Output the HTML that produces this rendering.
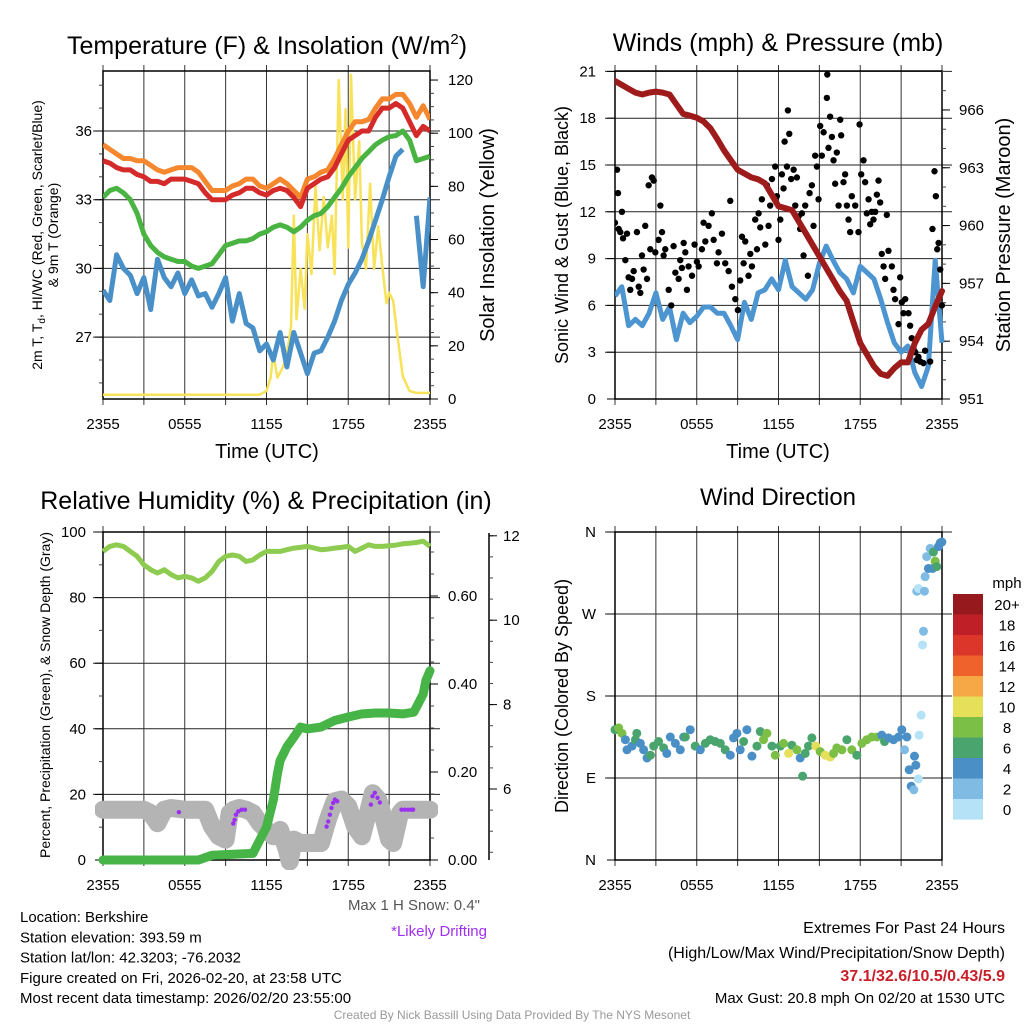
<!DOCTYPE html>
<html><head><meta charset="utf-8"><style>
html,body{margin:0;padding:0;background:#fff;}
svg{display:block;font-family:"Liberation Sans",sans-serif;}
</style></head><body>
<svg id="c" width="1024" height="1024" viewBox="0 0 1024 1024" xmlns="http://www.w3.org/2000/svg"></svg>
<script>
// ---------- DATA ----------
const timeLabels = ["2355","0555","1155","1755","2355"];
const hrs = [0,0.5,1,1.5,2,2.5,3,3.5,4,4.5,5,5.5,6,6.5,7,7.5,8,8.5,9,9.5,10,10.5,11,11.5,12,12.5,13,13.5,14,14.5,15,15.5,16,16.5,17,17.5,18,18.5,19,19.5,20,20.5,21,21.5,22,22.5,23,23.5,24];
const tempOrange = [35.4,35.2,35.0,34.8,34.8,34.7,34.7,34.5,34.3,34.2,34.3,34.4,34.4,34.4,34.2,33.8,33.4,33.4,33.4,33.6,33.7,33.9,33.9,33.6,33.5,33.7,33.9,33.7,33.4,33.1,33.9,34.0,34.2,34.3,34.8,35.4,36.0,36.4,36.4,36.5,37.0,37.4,37.4,37.6,37.6,37.2,36.6,37.1,36.5];
const tempRed = [34.7,34.6,34.4,34.3,34.3,34.1,34.0,33.8,33.8,33.7,33.9,33.9,33.9,33.8,33.7,33.3,33.0,33.0,33.0,33.2,33.3,33.5,33.5,33.3,33.2,33.4,33.5,33.4,33.1,32.7,33.5,33.7,33.9,34.0,34.4,35.0,35.6,35.8,36.0,36.0,36.6,37.0,37.0,37.2,37.0,36.4,35.8,36.2,36.0];
const tempGreen = [33.1,33.4,33.5,33.3,33.0,32.4,31.5,31.0,30.7,30.5,30.4,30.3,30.3,30.1,30.0,30.1,30.2,30.6,31.0,31.1,31.2,31.2,31.3,31.5,31.6,31.8,31.9,31.8,31.6,31.8,32.1,32.3,32.4,32.7,33.1,33.5,34.0,34.4,34.8,35.1,35.4,35.6,35.75,35.8,36.0,35.6,34.7,34.8,34.9];
const tempBlue = [29.05,28.6,30.6,30.0,29.7,28.9,29.6,28.2,30.4,29.6,29.2,29.8,28.9,29.5,28.8,28.9,28.3,28.9,29.6,27.7,28.9,27.6,27.4,26.4,26.7,26.0,27.2,25.7,27.2,26.3,25.4,26.3,26.4,27.0,27.7,28.6,29.3,29.8,30.4,31.2,32.1,33.0,34.0,34.9,35.2,null,32.3,29.2,33.1];
const solarHrs = [0,6,11.5,12,12.3,12.5,12.8,13.2,13.5,13.8,14,14.2,14.5,14.8,15,15.3,15.6,15.9,16.2,16.5,16.8,17,17.3,17.6,17.8,18,18.2,18.5,18.8,19,19.3,19.6,19.9,20.2,20.5,20.8,21,21.3,21.6,22,22.5,23,24];
const solarVals = [1.6,1.6,1.6,3,8,17,8,12,17,27,69,30,49,34,62,47,80,56,76,57,69,47,120,75,109,57,122,75,97,59,49,81,49,65,50,36,40,37,24,8.5,3,2.3,2.3];
const pressure = [967.5,967.3,967.1,966.9,966.8,966.9,966.95,966.9,966.8,966.3,965.8,965.7,965.6,965.4,965.05,964.5,963.9,963.4,962.9,962.7,962.5,962.4,962.2,961.6,961.0,960.9,960.8,960.2,959.6,959.0,958.4,957.8,957.2,956.6,956.1,955.0,953.9,953.3,952.7,952.3,952.2,952.6,952.9,952.9,953.9,954.6,954.9,955.8,956.6];
const windSpd = [6.6,7.2,4.7,5.1,4.7,5.5,6.8,5.1,5.9,3.8,5.5,4.9,5.3,5.9,5.9,5.5,5.5,4.7,3.8,6.2,5.1,6.8,7.0,7.7,7.0,8.9,7.2,6.8,6.4,7.0,8.7,9.8,8.9,8.1,7.7,6.8,8.5,8.1,7.7,6.4,4.9,3.6,3.0,3.4,1.7,0.8,2.1,8.9,3.6];
const gustHrs = [0,0.15,0.22,0.27,0.39,0.51,0.59,0.76,0.88,1.0,1.12,1.25,1.37,1.61,1.74,1.86,1.98,2.1,2.22,2.35,2.47,2.59,2.71,2.84,2.96,3.2,3.33,3.45,3.57,3.69,3.94,4.13,4.3,4.43,4.67,4.79,4.91,5.04,5.16,5.28,5.4,5.65,5.84,6.01,6.14,6.38,6.5,6.63,6.87,7.11,7.24,7.48,7.6,7.85,8.09,8.34,8.46,8.58,8.83,9.02,9.19,9.32,9.44,9.56,9.8,9.93,10.05,10.29,10.42,10.54,10.66,10.78,11.03,11.15,11.27,11.39,11.52,11.76,11.88,12.0,12.13,12.25,12.37,12.45,12.62,12.69,12.79,12.93,13.11,13.23,13.35,13.47,13.59,13.72,13.84,13.96,14.16,14.28,14.45,14.57,14.69,14.82,14.94,15.06,15.18,15.31,15.58,15.55,15.67,15.79,15.92,16.04,16.16,16.28,16.41,16.53,16.6,16.77,16.89,17.02,17.14,17.26,17.38,17.63,17.87,17.95,18.07,18.24,18.36,18.48,18.61,18.73,18.85,18.97,19.1,19.22,19.34,19.46,19.58,19.71,19.83,19.95,20.07,20.32,20.44,20.56,20.81,20.93,21.05,21.17,21.3,21.54,21.66,21.78,21.91,22.03,22.15,22.27,22.4,22.64,22.76,23.13,23.3,23.45,23.55,23.65,23.75,23.87,23.99];
const gustVals = [11.3,14.7,13.2,10.9,10.7,12.0,10.3,8.9,10.6,7.8,7.0,7.7,8.2,10.7,7.2,6.8,9.2,8.3,11.1,7.7,13.7,9.6,14.2,14.0,9.4,10.2,12.4,10.7,9.2,9.6,7.0,6.0,9.8,8.1,7.7,8.9,8.4,10.0,9.4,7.0,8.5,7.9,9.9,8.8,8.5,9.6,11.3,10.1,11.1,11.9,10.2,8.7,9.4,10.6,8.7,8.2,12.7,7.2,6.4,5.7,7.6,10.4,8.7,10.1,7.9,9.3,8.5,11.5,9.6,11.9,11.0,12.8,9.9,13.7,11.1,12.4,14.1,14.9,13.0,10.2,11.5,14.4,13.5,16.5,14.9,18.5,17.0,14.1,14.7,12.4,14.2,11.7,10.9,11.9,9.2,12.4,7.9,13.2,13.7,11.1,15.6,14.9,12.8,17.5,15.6,17.1,20.8,19.3,16.1,18.1,16.8,15.3,13.8,15.8,12.4,17.9,16.9,13.9,14.4,12.4,11.5,10.7,13.0,12.4,10.7,17.6,14.4,15.3,13.9,11.9,12.8,11.2,12.0,11.5,12.0,13.1,14.0,12.6,9.3,8.5,7.7,11.8,9.5,8.5,7.0,6.4,4.8,7.8,6.2,5.5,6.4,5.5,4.7,3.9,3.2,3.0,2.5,2.7,2.4,2.3,3.1,2.4,10.9,14.6,13.0,9.6,10.0,8.3,6.0];
const rhVals = [94.1,95.6,96.1,95.6,94.1,92.6,90.0,88.5,87.5,88.5,87.0,86.0,86.5,86.0,85.0,86.0,88.0,91.0,92.6,93.0,92.6,91.0,91.5,93.0,94.1,94.1,94.1,94.6,95.1,95.3,95.6,95.1,94.6,94.8,95.1,95.3,95.6,94.1,95.1,96.1,95.6,95.6,95.8,96.0,96.4,96.6,96.8,97.2,95.6];
const precipHrs = [0,7,8,11,11.5,12,12.5,12.8,13,13.5,14,14.5,15,16,17,18,19,20,21,22,22.8,23,23.5,23.7,24];
const precipVals = [0,0,0.011,0.015,0.045,0.075,0.136,0.196,0.226,0.257,0.279,0.302,0.298,0.302,0.317,0.325,0.332,0.334,0.334,0.332,0.336,0.347,0.377,0.408,0.43];
const snowHrs = [0,3,3.5,4,4.5,5,6,7,7.5,8,8.5,9,9.3,9.6,10,10.5,11,11.5,12,12.5,13,13.5,13.7,14,14.5,15,16,16.5,17,17.5,18,18.5,19,19.5,19.8,20.2,20.5,21,21.3,21.8,22,23,24];
const snowVals = [5.51,5.51,5.43,5.19,5.51,5.55,5.51,5.51,5.51,5.11,4.88,4.80,5.43,5.51,5.55,5.51,5.43,5.19,5.03,4.88,5.03,4.56,4.28,4.80,4.72,4.72,4.72,5.27,5.71,5.75,5.59,5.11,4.88,5.51,5.90,5.75,5.43,4.80,4.72,5.43,5.51,5.51,5.51];
const driftHrs = [5.57,9.56,9.66,9.76,9.93,10.17,10.42,16.41,16.53,16.65,16.77,16.89,17.02,17.19,19.66,19.78,19.95,20.15,20.32,21.91,22.15,22.4,22.64,22.76];
const driftVals = [5.45,5.18,5.27,5.39,5.47,5.51,5.51,5.11,5.23,5.39,5.55,5.67,5.75,5.71,5.63,5.83,5.91,5.79,5.68,5.51,5.51,5.51,5.51,5.51];
const dirHrs = [0,0.27,0.51,0.76,0.88,1.25,1.5,1.6,1.86,2.1,2.35,2.6,2.84,3.2,3.57,3.8,4.06,4.43,4.79,5.04,5.16,5.52,5.89,6.26,6.63,6.99,7.36,7.73,8.09,8.46,8.7,8.95,9.19,9.44,9.68,10.05,10.42,10.66,10.9,11.15,11.52,11.76,12.13,12.37,12.74,12.98,13.35,13.59,13.77,13.96,14.2,14.45,14.74,15.06,15.43,15.8,16.04,16.28,16.65,17.02,17.38,17.75,18.12,18.48,18.85,19.22,19.58,19.78,20.07,20.44,20.81,21.05,21.42,21.25,21.59,21.74,21.93,21.98,22.08,22.27,22.32,22.47,22.57,22.64,22.15,22.27,22.71,22.76,22.88,23.0,23.13,23.3,23.37,23.5,23.62,23.74,23.87,23.99];
const dirDeg = [143,145,139,132,121,125,132,139,128,121,112,115,125,130,123,117,135,128,121,135,135,143,125,121,128,132,130,128,121,115,134,139,121,130,143,114,125,141,132,139,125,115,125,128,117,126,121,112,92,117,125,134,125,119,115,113,117,123,121,132,121,115,128,132,135,135,137,130,134,132,135,143,135,121,99,81,77,114,104,89,137,159,236,251,295,298,295,311,333,320,342,320,338,328,322,344,348,349];
const dirSpd = [6,8,8,4,4,4,6,6,4,4,4,6,6,6,6,4,4,4,4,4,6,4,6,4,6,6,6,6,6,4,4,4,4,6,4,4,6,6,8,8,6,8,6,8,10,6,8,4,6,6,6,6,10,8,10,10,8,8,8,6,8,6,8,8,8,8,4,6,4,4,4,4,4,2,4,4,2,4,4,0,0,0,0,2,2,0,2,2,2,4,2,4,6,8,6,4,4,4];
const cbLabels = ["20+","18","16","14","12","10","8","6","4","2","0"];
const cbColors = ["#961a1d","#bf1f26","#dc3529","#ef622c","#f6a746","#e6df5a","#7cbf47","#49a56d","#4a8fc6","#7fbbe3","#b5e2f6"];

// ---------- HELPERS ----------
const NS="http://www.w3.org/2000/svg";
const svg=document.getElementById('c');
function mk(tag,attrs,parent){const e=document.createElementNS(NS,tag);for(const k in attrs)e.setAttribute(k,attrs[k]);(parent||svg).appendChild(e);return e;}
function txt(s,x,y,size,anchor,parent,extra){const t=mk('text',Object.assign({x:x,y:y,'font-size':size,'text-anchor':anchor||'middle',fill:'#000'},extra||{}),parent);t.textContent=s;return t;}
function linePath(xs,ys,fx,fy){let d='',pen=false;for(let i=0;i<xs.length;i++){if(ys[i]===null){pen=false;continue;}d+=(pen?'L':'M')+fx(xs[i]).toFixed(1)+' '+fy(ys[i]).toFixed(1);pen=true;}return d;}

function panelFrame(g,x0,x1,y0,y1,hGrid,fy){
  for(const v of hGrid){const y=fy(v);const l=mk('line',{x1:x0-10,x2:x1+10,y1:y,y2:y,stroke:'#222','stroke-width':1},g);}
  for(let h=0;h<=24;h+=3){const x=x0+h*(x1-x0)/24;const l=mk('line',{x1:x,x2:x,y1:y0-6,y2:y1+6,stroke:'#333','stroke-width':1},g);}
  const b=mk('rect',{x:x0,y:y0,width:x1-x0,height:y1-y0,fill:'none',stroke:'#000','stroke-width':1.5},g);
  
  timeLabels.forEach((s,i)=>{const t=txt(s,x0+i*6*(x1-x0)/24,y1+30,15,'middle',g);});
}
function yTicks(g,x,fy,majors,minors,side,labels,lx,size){
  const dir=side==='left'?-1:1;
  for(const v of minors){const y=fy(v);mk('line',{x1:x,x2:x+dir*4,y1:y,y2:y,stroke:'#444','stroke-width':1},g);}
  majors.forEach((v,i)=>{const y=fy(v);mk('line',{x1:x,x2:x+dir*8,y1:y,y2:y,stroke:'#000','stroke-width':1},g);
    const t=txt(labels[i],lx,y+5,size||15,side==='left'?'end':'start',g);});
}
function range(a,b,s){const r=[];for(let v=a;v<=b+1e-9;v+=s)r.push(+v.toFixed(4));return r;}

// ---------- PANEL 1 ----------
{const g=mk('g',{});
 const x0=103,x1=430,y0=71,y1=399;
 const fx=h=>x0+h*(x1-x0)/24, fT=v=>131+(36-v)*22.9, fS=v=>399-v*2.658;
 panelFrame(g,x0,x1,y0,y1,[27,30,33,36],fT);
 yTicks(g,x0,fT,[27,30,33,36],range(25,38,1),'left',["27","30","33","36"],92);
 yTicks(g,x1,fS,range(0,120,20),range(0,120,5),'right',range(0,120,20).map(String),448);
 const clip=mk('clipPath',{id:'cp1'},g);mk('rect',{x:x0,y:y0,width:x1-x0,height:y1-y0},clip);
 const pg=mk('g',{'clip-path':'url(#cp1)'},g);
 let p;
 p=mk('path',{d:linePath(solarHrs,solarVals,fx,fS),fill:'none',stroke:'#f7e25a','stroke-width':2.5,'stroke-linejoin':'round'},pg);
 p=mk('path',{d:linePath(hrs,tempBlue,fx,fT),fill:'none',stroke:'#4a90c8','stroke-width':5,'stroke-linejoin':'round'},pg);
 p=mk('path',{d:linePath(hrs,tempGreen,fx,fT),fill:'none',stroke:'#4ab442','stroke-width':5,'stroke-linejoin':'round'},pg);
 p=mk('path',{d:linePath(hrs,tempOrange,fx,fT),fill:'none',stroke:'#f5872e','stroke-width':5,'stroke-linejoin':'round'},pg);
 p=mk('path',{d:linePath(hrs,tempRed,fx,fT),fill:'none',stroke:'#d42a2a','stroke-width':5,'stroke-linejoin':'round'},pg);
 let t=txt('',267,54,25,'middle',g);t.innerHTML='Temperature (F) &amp; Insolation (W/m<tspan font-size="15" dy="-10">2</tspan><tspan dy="10">)</tspan>';
 t=txt('Time (UTC)',267,458,20,'middle',g);
 t=txt('',0,0,14,'middle',g,{transform:'translate(42,235) rotate(-90)'});t.innerHTML='2m T, T<tspan font-size="10" dy="3">d</tspan><tspan dy="-3">, HI/WC (Red, Green, Scarlet/Blue)</tspan>';
 t=txt('& 9m T (Orange)',0,0,14,'middle',g,{transform:'translate(58,235) rotate(-90)'});
 t=txt('Solar Insolation (Yellow)',0,0,20,'middle',g,{transform:'translate(494,235) rotate(-90)'});
}
// ---------- PANEL 2 ----------
{const g=mk('g',{});
 const x0=615,x1=942,y0=71,y1=399;
 const fx=h=>x0+h*(x1-x0)/24, fW=v=>399-v*15.6, fP=v=>399-(v-951)*19.27;
 panelFrame(g,x0,x1,y0,y1,[3,6,9,12,15,18,21],fW);
 yTicks(g,x0,fW,range(0,21,3),[],'left',range(0,21,3).map(String),596);
 yTicks(g,x1,fP,range(951,966,3),range(951,968,1),'right',range(951,966,3).map(String),959);
 const clip=mk('clipPath',{id:'cp2'},g);mk('rect',{x:x0,y:y0-2,width:x1-x0+3,height:y1-y0+4},clip);
 const pg=mk('g',{'clip-path':'url(#cp2)'},g);
 let p=mk('path',{d:linePath(hrs,windSpd,fx,fW),fill:'none',stroke:'#4d95d0','stroke-width':5,'stroke-linejoin':'round'},pg);
 gustHrs.forEach((h,i)=>{const c=mk('circle',{cx:fx(h),cy:fW(gustVals[i]),r:3.2,fill:'#000'},pg);
  
  });
 p=mk('path',{d:linePath(hrs,pressure,fx,fP),fill:'none',stroke:'#9e1b1b','stroke-width':6,'stroke-linejoin':'round','stroke-linecap':'round'},pg);
 let t=txt('Winds (mph) & Pressure (mb)',778,51,25,'middle',g);
 t=txt('Time (UTC)',778,458,20,'middle',g);
 t=txt('Sonic Wind & Gust (Blue, Black)',0,0,18,'middle',g,{transform:'translate(568,235) rotate(-90)'});
 t=txt('Station Pressure (Maroon)',0,0,20,'middle',g,{transform:'translate(1010,235) rotate(-90)'});
}
// ---------- PANEL 3 ----------
{const g=mk('g',{});
 const x0=103,x1=430,y0=532,y1=860;
 const fx=h=>x0+h*(x1-x0)/24, fR=v=>860-v*3.28, fPr=v=>860-v*440, fSn=v=>789-(v-6)*42.2;
 panelFrame(g,x0,x1,y0,y1,[20,40,60,80,100],fR);
 yTicks(g,x0,fR,range(0,100,20),range(0,100,10),'left',range(0,100,20).map(String),86);
 yTicks(g,x1,fPr,[0,0.2,0.4,0.6],range(0,0.7,0.05),'right',["0.00","0.20","0.40","0.60"],448);
 const sa=mk('line',{x1:489,x2:489,y1:533,y2:860,stroke:'#000','stroke-width':1.5},g);
 yTicks(g,489,fSn,[6,8,10,12],range(4.5,12,0.5),'right',["6","8","10","12"],503);
 const clip=mk('clipPath',{id:'cp3'},g);mk('rect',{x:x0-8,y:y0,width:x1-x0+16,height:y1-y0+10},clip);
 const pg=mk('g',{'clip-path':'url(#cp3)'},g);
 let p=mk('path',{d:linePath(snowHrs,snowVals,fx,fSn),fill:'none',stroke:'#b4b4b4','stroke-width':18,'stroke-linejoin':'round','stroke-linecap':'round'},pg);
 driftHrs.forEach((h,i)=>{const c=mk('circle',{cx:fx(h),cy:fSn(driftVals[i]),r:2.2,fill:'#9b30f0'},pg);
  
  });
 p=mk('path',{d:linePath(precipHrs,precipVals,fx,fPr),fill:'none',stroke:'#46b446','stroke-width':9,'stroke-linejoin':'round','stroke-linecap':'round'},pg);
 p=mk('path',{d:linePath(hrs,rhVals,fx,fR),fill:'none',stroke:'#8dcc50','stroke-width':5,'stroke-linejoin':'round'},pg);
 let t=txt('Relative Humidity (%) & Precipitation (in)',266,509,25,'middle',g);
 t=txt('Percent, Precipitation (Green), & Snow Depth (Gray)',0,0,14,'middle',g,{transform:'translate(50,695) rotate(-90)'});
 t=txt('Max 1 H Snow: 0.4"',480,910,15,'end',g,{fill:'#555'});
 t=txt('*Likely Drifting',487,936,15,'end',g,{fill:'#a030f0'});
}
// ---------- PANEL 4 ----------
{const g=mk('g',{});
 const x0=615,x1=942,y0=532,y1=860;
 const fx=h=>x0+h*(x1-x0)/24, fD=v=>860-v*(328/360);
 panelFrame(g,x0,x1,y0,y1,[90,180,270,360],fD);
 yTicks(g,x0,fD,[0,90,180,270,360],[],'left',["N","E","S","W","N"],596);
 const colorFor=s=>cbColors[10-Math.min(10,Math.floor(s/2))];
 dirHrs.forEach((h,i)=>{const c=mk('circle',{cx:fx(h),cy:fD(dirDeg[i]),r:4.5,fill:colorFor(dirSpd[i])},g);
  
  });
 let t=txt('Wind Direction',778,505,24,'middle',g);
 t=txt('Direction (Colored By Speed)',0,0,18,'middle',g,{transform:'translate(568,696) rotate(-90)'});
 const lg=mk('g',{},g);
 t=txt('mph',1007,588,15,'middle',lg);
 cbColors.forEach((c,i)=>{const r=mk('rect',{x:953,y:594+i*20.5,width:30,height:20.6,fill:c},lg);
  
  
  const l=txt(cbLabels[i],1007,594+i*20.5+16,15,'middle',lg);
  
  });
}
// ---------- FOOTER TEXT ----------
{const g=mk('g',{});
 ["Location: Berkshire","Station elevation: 393.59 m","Station lat/lon: 42.3203; -76.2032","Figure created on Fri, 2026-02-20, at 23:58 UTC","Most recent data timestamp: 2026/02/20 23:55:00"].forEach((s,i)=>{const t=txt(s,20,922+i*20.3,15,'start',g);});
 const e=mk('g',{});
 let t=txt('Extremes For Past 24 Hours',1005,933,16,'end',e);
 t=txt('(High/Low/Max Wind/Precipitation/Snow Depth)',1005,958,16,'end',e);
 t=txt('37.1/32.6/10.5/0.43/5.9',1005,981,16,'end',e,{fill:'#c8202a','font-weight':'bold'});
 t=txt('Max Gust: 20.8 mph On 02/20 at 1530 UTC',1005,1003,15,'end',e);
 t=txt('Created By Nick Bassill Using Data Provided By The NYS Mesonet',512,1019,12,'middle',e,{fill:'#999'});
}
</script>
</body></html>
